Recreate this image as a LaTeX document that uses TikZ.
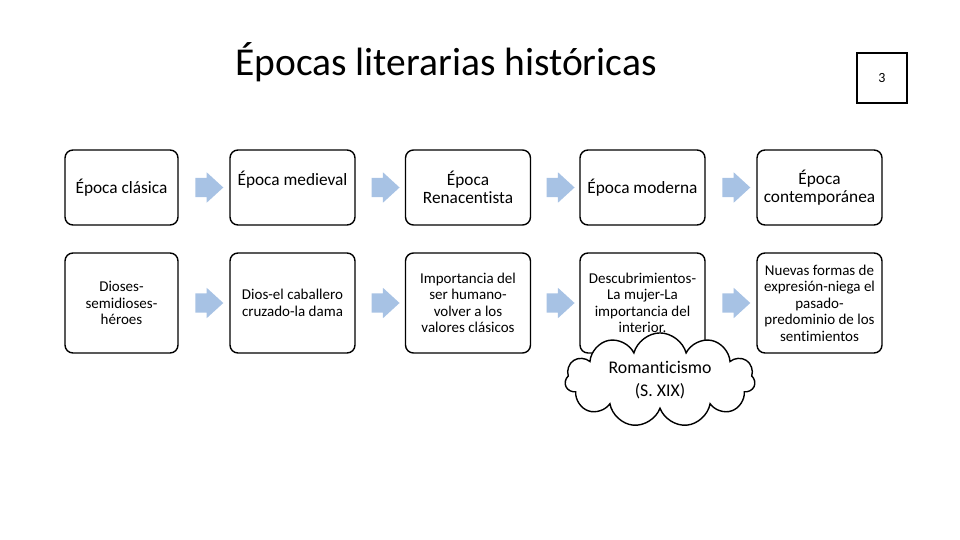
\documentclass[tikz,border=0pt]{standalone}
\usepackage{fontspec}
\setmainfont{Carlito}[Ligatures=NoCommon]
\usepackage{xcolor}
\usepackage{tikz}
\usetikzlibrary{shapes,arrows,calc}
\definecolor{arrowblue}{RGB}{167,194,228}
\tikzstyle{block} = [rectangle, draw, line width=1.4pt, rounded corners=8pt,
    align=center, minimum width=125pt, minimum height=75pt, inner sep=2pt,
    font=\fontsize{17.3}{18.5}\selectfont]
\tikzstyle{lowblock} = [block, minimum height=100pt,
    font=\fontsize{15}{16.5}\selectfont]
\tikzstyle{flecha} = [single arrow, fill=arrowblue, draw=none, inner sep=0pt,
    minimum height=28pt, single arrow head extend=5.5pt, single arrow tip angle=85]
\tikzstyle{nube} = [cloud, draw, fill=white, line width=1.4pt, cloud puffs=11,
    aspect=2.5, minimum width=190pt, minimum height=80pt, align=center,
    font=\fontsize{17.8}{23}\selectfont]

\begin{document}
\begin{tikzpicture}[x=1pt, y=-1pt, node distance = 174pt]
			\useasboundingbox (0,0) rectangle (960,540);
			% Title and page number
			\node [font=\fontsize{39.5}{42}\selectfont] (titulo) at (446,62) {Épocas literarias históricas};
			\node [draw, line width=1.4pt, minimum size=50pt, font=\fontsize{14}{16}\selectfont] (numPagina) at (882,78) {3};

			% Place nodes
			\node [block, minimum width=113pt] (clasica) at (121.5,187.5) {Época clásica};
			\node [block, right of=clasica, node distance=171pt] (medieval) {Época medieval\\~};
			\node [block, right of=medieval, node distance=175.5pt] (renacentista) {Época\\Renacentista};
			\node [block, right of=renacentista, node distance=174.5pt] (moderna) {Época moderna};
			\node [block, right of=moderna, node distance=177pt] (contemporanea) {Época\\contemporánea};

			\node [lowblock, minimum width=113pt, below of=clasica, node distance=115.5pt] (dioses) {Dioses-\\semidioses-\\héroes};
			\node [lowblock, below of=medieval, node distance=115.5pt] (caballero) {Dios-el caballero\\cruzado-la dama};
			\node [lowblock, below of=renacentista, node distance=115.5pt] (serHumano) {Importancia del\\ser humano-\\volver a los\\valores clásicos};
			\node [lowblock, below of=moderna, node distance=115.5pt] (descubrimientos) {Descubrimientos-\\La mujer-La\\importancia del\\interior.};
			\node [lowblock, below of=contemporanea, node distance=115.5pt] (nuevasFormas) {Nuevas formas de\\expresión-niega el\\pasado-\\predominio de los\\sentimientos};

			\node [nube] (romanticismo) at (660,380) {Romanticismo\\(S. XIX)};

			% Draw arrows
			\node [flecha] (f1) at ($(clasica.east)!0.5!(medieval.west)$) {\rule{0pt}{19pt}};
			\node [flecha] (f2) at ($(medieval.east)!0.5!(renacentista.west)$) {\rule{0pt}{19pt}};
			\node [flecha] (f3) at ($(renacentista.east)!0.5!(moderna.west)$) {\rule{0pt}{19pt}};
			\node [flecha] (f4) at ($(moderna.east)!0.5!(contemporanea.west)$) {\rule{0pt}{19pt}};
			\node [flecha] (f5) at ($(dioses.east)!0.5!(caballero.west)$) {\rule{0pt}{19pt}};
			\node [flecha] (f6) at ($(caballero.east)!0.5!(serHumano.west)$) {\rule{0pt}{19pt}};
			\node [flecha] (f7) at ($(serHumano.east)!0.5!(descubrimientos.west)$) {\rule{0pt}{19pt}};
			\node [flecha] (f8) at ($(descubrimientos.east)!0.5!(nuevasFormas.west)$) {\rule{0pt}{19pt}};
\end{tikzpicture}
\end{document}
